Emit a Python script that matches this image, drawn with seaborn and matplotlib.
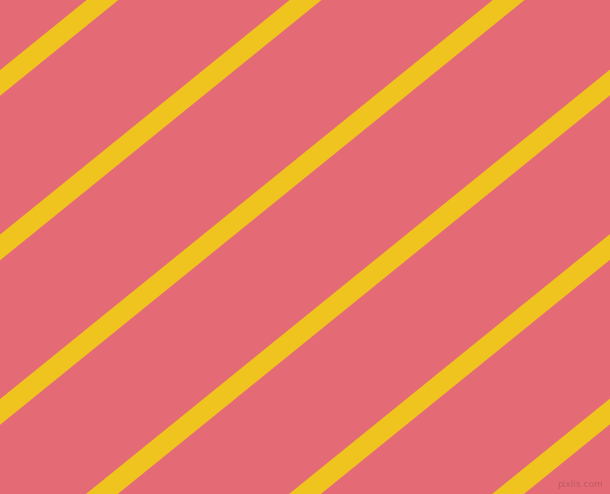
import numpy as np
import pandas as pd
import seaborn as sns
import matplotlib
matplotlib.use("Agg")
import matplotlib.pyplot as plt

# stripes as y = intercept + slope * x, in pixel coords (y grows down)
stripe_intercepts = [83, 247.5, 412, 576.5, 741, 905.5]
stripe_slope = -0.81
x_ends = [-60, 670]

BG = "#e46b76"
STRIPE = "#efc41f"

W, H = 610, 494
PAD = 50   # extra canvas round the plot, agg cuts thick lines at the canvas edge

rows = []
for i, b in enumerate(stripe_intercepts):
    for x in x_ends:
        rows.append(dict(stripe=i, x=x, y=b + stripe_slope * x))
df = pd.DataFrame(rows)

sns.set_theme(style="white")
fig = plt.figure(figsize=((W + 2 * PAD) / 100, (H + 2 * PAD) / 100), dpi=100)
fig.patch.set_facecolor(BG)
ax = fig.add_axes([PAD / (W + 2 * PAD), PAD / (H + 2 * PAD),
                   W / (W + 2 * PAD), H / (H + 2 * PAD)])
ax.set_facecolor(BG)

sns.lineplot(data=df, x="x", y="y", units="stripe", estimator=None,
             color=STRIPE, linewidth=14.4, ax=ax, legend=False,
             solid_capstyle="butt")

ax.set_xlim(0, W)
ax.set_ylim(H, 0)
ax.axis("off")

ax.text(603, 489, "pixlis.com", ha="right", va="bottom", fontsize=6.5,
        color="#b65560", alpha=0.8)

fig.canvas.draw()
img = np.asarray(fig.canvas.buffer_rgba())
plt.imsave("out.png", img[PAD:PAD + H, PAD:PAD + W])
